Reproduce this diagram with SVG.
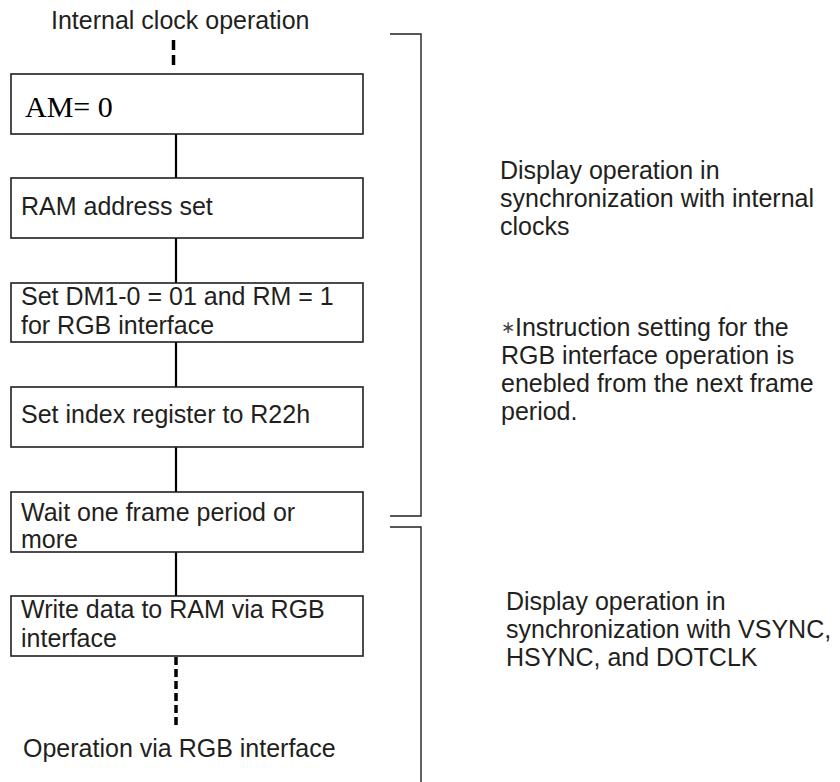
<svg xmlns="http://www.w3.org/2000/svg" width="840" height="782" viewBox="0 0 840 782">
<style>
.t{font-family:"Liberation Sans",Arial,sans-serif;font-size:25px;fill:#231f20}
.s{font-family:"Liberation Serif","Times New Roman",serif;font-size:30px;fill:#000}
.box{fill:#fff;stroke:#231f20;stroke-width:1.6}
.ln{stroke:#000;stroke-width:2.2;fill:none}
.dash{stroke:#000;stroke-width:3.5;fill:none}
.br{stroke:#231f20;stroke-width:1.4;fill:none}
.ast{font-size:17px;fill:#444}
</style>
<rect width="840" height="782" fill="#fff"/>
<text class="t" x="51" y="28.5">Internal clock operation</text>
<g id="connectors">
<line class="dash" x1="173.5" y1="40" x2="173.5" y2="66" stroke-dasharray="10 5"/>
<line class="ln" x1="176" y1="134" x2="176" y2="178"/>
<line class="ln" x1="176" y1="238" x2="176" y2="283"/>
<line class="ln" x1="176" y1="342" x2="176" y2="387"/>
<line class="ln" x1="176" y1="447" x2="176" y2="492"/>
<line class="ln" x1="176" y1="552" x2="176" y2="596"/>
<line class="dash" x1="176" y1="657" x2="176" y2="726" stroke-dasharray="8 4"/>
</g>
<g id="n1"><rect class="box" x="11" y="74" width="352" height="60"/><text class="s" x="25" y="117">AM= 0</text></g>
<g id="n2"><rect class="box" x="11" y="178" width="352" height="60"/><text class="t" x="21" y="215">RAM address set</text></g>
<g id="n3"><rect class="box" x="11" y="283" width="352" height="59"/><text class="t" x="21" y="305">Set DM1-0 = 01 and RM = 1</text><text class="t" x="21" y="334">for RGB interface</text></g>
<g id="n4"><rect class="box" x="11" y="387" width="352" height="60"/><text class="t" x="21" y="423">Set index register to R22h</text></g>
<g id="n5"><rect class="box" x="11" y="492" width="352" height="60"/><text class="t" x="21" y="521">Wait one frame period or</text><text class="t" x="21" y="548">more</text></g>
<g id="n6"><rect class="box" x="11" y="596" width="352" height="60"/><text class="t" x="21" y="618">Write data to RAM via RGB</text><text class="t" x="21" y="647">interface</text></g>
<text class="t" x="23" y="757">Operation via RGB interface</text>
<g id="brackets">
<polyline class="br" points="390,34 421,34 421,516 390,516"/>
<polyline class="br" points="390,527 421,527 421,782"/>
</g>
<text class="t" x="500" y="179">Display operation in</text>
<text class="t" x="500" y="207">synchronization with internal</text>
<text class="t" x="500" y="235">clocks</text>
<text class="t" x="501" y="336"><tspan class="ast" dy="-3">∗</tspan><tspan dy="3">Instruction setting for the</tspan></text>
<text class="t" x="501" y="364">RGB interface operation is</text>
<text class="t" x="501" y="392">enebled from the next frame</text>
<text class="t" x="501" y="420">period.</text>
<text class="t" x="506" y="610">Display operation in</text>
<text class="t" x="506" y="638">synchronization with VSYNC,</text>
<text class="t" x="506" y="666">HSYNC, and DOTCLK</text>
</svg>
